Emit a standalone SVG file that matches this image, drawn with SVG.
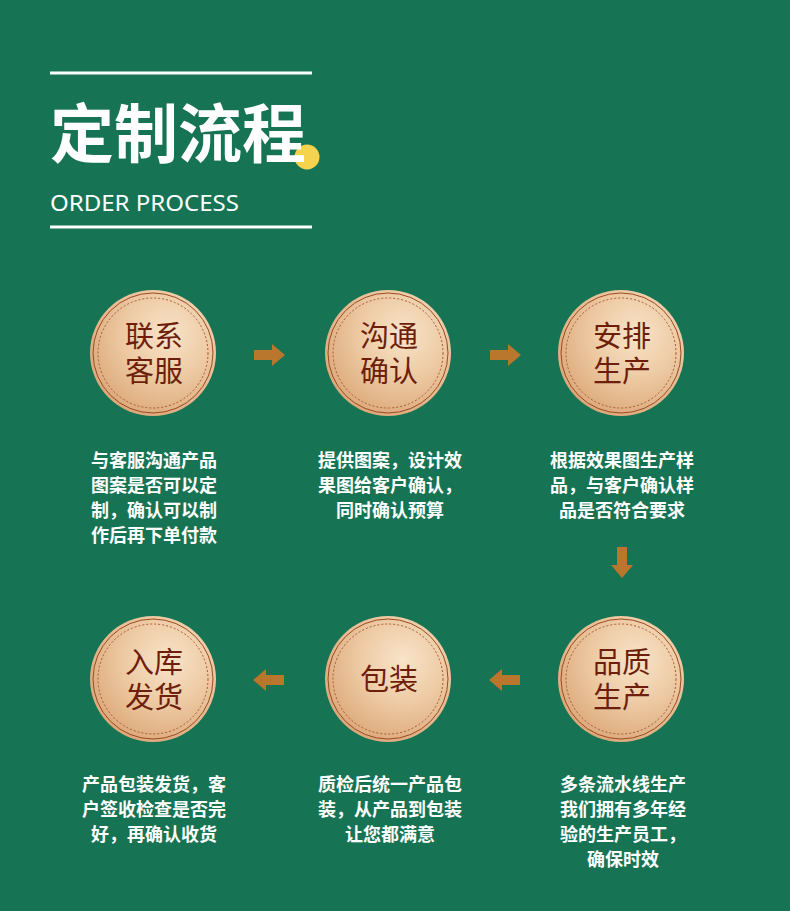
<svg xmlns="http://www.w3.org/2000/svg" width="790" height="911" viewBox="0 0 790 911">
<defs>
<radialGradient id="gold" cx="0.62" cy="0.35" r="0.75">
<stop offset="0" stop-color="#f8e4c9"/>
<stop offset="0.45" stop-color="#eecba5"/>
<stop offset="1" stop-color="#d9a272"/>
</radialGradient>
<g id="coin">
<circle r="63" fill="url(#gold)"/>
<circle r="60" fill="none" stroke="#9a4b24" stroke-width="1"/>
<circle r="55" fill="none" stroke="#a35a30" stroke-width="1" stroke-dasharray="2 2"/>
</g>
<path id="arrR" d="M-15,-5 H3 V-11 L16,0 L3,11 V5 H-15 Z" fill="#b8772c"/>
</defs>
<style>
.ct{font-family:"Noto Sans CJK SC","Noto Sans",sans-serif;font-size:29px;fill:#6e1f0c;text-anchor:middle}
.dt{font-family:"Noto Sans CJK SC","Noto Sans",sans-serif;font-size:18px;font-weight:bold;fill:#ffffff;text-anchor:middle}
</style>
<rect width="790" height="911" fill="#167455"/>
<g id="header">
<rect x="50" y="71.5" width="262" height="3" fill="#ffffff"/>
<circle cx="307" cy="157" r="12.5" fill="#f5d34f"/>
<text x="50" y="157" font-family="Noto Sans CJK SC, sans-serif" font-size="64" font-weight="bold" fill="#ffffff">定制流程</text>
<text x="50" y="211" font-family="Noto Sans, sans-serif" font-size="22" fill="#ffffff" textLength="189" lengthAdjust="spacingAndGlyphs">ORDER PROCESS</text>
<rect x="50" y="225.5" width="262" height="3" fill="#ffffff"/>
</g>
<g id="node1">
<use href="#coin" x="153" y="353"/>
<text class="ct"><tspan x="154" y="347">联系</tspan><tspan x="154" y="382">客服</tspan></text>
<text class="dt"><tspan x="154" y="467">与客服沟通产品</tspan><tspan x="154" y="492">图案是否可以定</tspan><tspan x="154" y="517">制，确认可以制</tspan><tspan x="154" y="542">作后再下单付款</tspan></text>
</g>
<g id="node2">
<use href="#coin" x="388" y="353"/>
<text class="ct"><tspan x="389" y="347">沟通</tspan><tspan x="389" y="382">确认</tspan></text>
<text class="dt"><tspan x="390" y="467">提供图案，设计效</tspan><tspan x="390" y="492">果图给客户确认，</tspan><tspan x="390" y="517">同时确认预算</tspan></text>
</g>
<g id="node3">
<use href="#coin" x="621" y="353"/>
<text class="ct"><tspan x="622" y="347">安排</tspan><tspan x="622" y="382">生产</tspan></text>
<text class="dt"><tspan x="622" y="467">根据效果图生产样</tspan><tspan x="622" y="492">品，与客户确认样</tspan><tspan x="622" y="517">品是否符合要求</tspan></text>
</g>
<g id="node4">
<use href="#coin" x="621" y="679"/>
<text class="ct"><tspan x="622" y="673">品质</tspan><tspan x="622" y="708">生产</tspan></text>
<text class="dt"><tspan x="623" y="791">多条流水线生产</tspan><tspan x="623" y="816">我们拥有多年经</tspan><tspan x="623" y="841">验的生产员工，</tspan><tspan x="623" y="866">确保时效</tspan></text>
</g>
<g id="node5">
<use href="#coin" x="388" y="679"/>
<text class="ct" x="389" y="690">包装</text>
<text class="dt"><tspan x="390" y="791">质检后统一产品包</tspan><tspan x="390" y="816">装，从产品到包装</tspan><tspan x="390" y="841">让您都满意</tspan></text>
</g>
<g id="node6">
<use href="#coin" x="153" y="679"/>
<text class="ct"><tspan x="154" y="673">入库</tspan><tspan x="154" y="708">发货</tspan></text>
<text class="dt"><tspan x="154" y="791">产品包装发货，客</tspan><tspan x="154" y="816">户签收检查是否完</tspan><tspan x="154" y="841">好，再确认收货</tspan></text>
</g>
<g id="connectors">
<use href="#arrR" transform="translate(269,355)"/>
<use href="#arrR" transform="translate(505,355)"/>
<use href="#arrR" transform="translate(622,562) rotate(90)"/>
<use href="#arrR" transform="translate(505,680) rotate(180)"/>
<use href="#arrR" transform="translate(269,680) rotate(180)"/>
</g>
</svg>
